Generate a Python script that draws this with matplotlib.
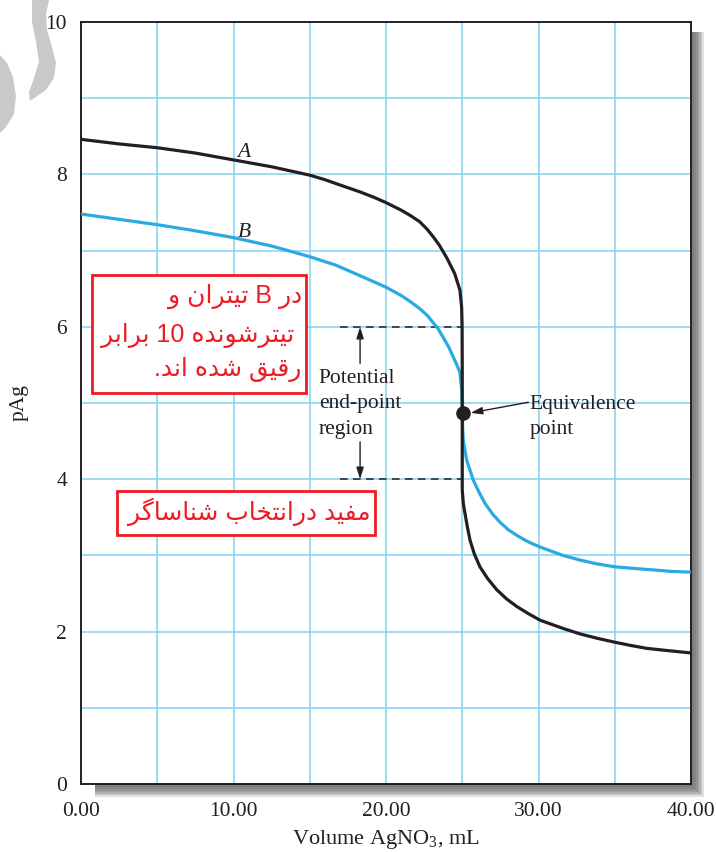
import re
import matplotlib
matplotlib.use('Agg')
import matplotlib.pyplot as plt
from matplotlib.patches import Rectangle, Polygon

plt.rcParams['mathtext.fontset'] = 'custom'
plt.rcParams['mathtext.rm'] = 'Liberation Serif'
plt.rcParams['mathtext.it'] = 'Liberation Serif:italic'

# ---------------- data ----------------
volume_A = [0, 2.5, 5, 7.5, 10, 12.5, 15, 16, 17, 18.3, 19.2, 20.0, 21.0, 21.6, 22.2,
            22.7, 23.1, 23.5, 24.0, 24.5, 24.85, 24.96, 24.99, 25.0, 25.0, 25.0,
            25.07, 25.18, 25.33, 25.51, 25.79, 26.16, 26.65, 27.26, 27.9, 28.57,
            29.3, 30.1, 31.63, 32.72, 33.9, 35.02, 36.0, 37.1, 38.5, 40]
pAg_A = [8.46, 8.40, 8.35, 8.28, 8.19, 8.10, 7.99, 7.93, 7.86, 7.77, 7.70, 7.63,
         7.53, 7.46, 7.38, 7.28, 7.18, 7.07, 6.90, 6.70, 6.48, 6.26, 6.00, 5.43,
         4.87, 3.86, 3.68, 3.55, 3.38, 3.20, 3.02, 2.85, 2.70, 2.55, 2.43, 2.33,
         2.24, 2.15, 2.04, 1.97, 1.91, 1.86, 1.82, 1.78, 1.75, 1.72]

volume_B = [0, 2.5, 5, 7.5, 10, 12.5, 15, 16.7, 18.3, 20.0, 21.0, 21.6, 22.2, 22.7,
            23.4, 24.1, 24.6, 24.85, 24.97, 25.0, 25.03, 25.07, 25.29, 25.72, 26.1,
            26.5, 27.0, 27.5, 28.0, 28.6, 29.3, 30.1, 31.6, 32.7, 33.8, 35.0, 36.2,
            37.5, 38.7, 40]
pAg_B = [7.48, 7.41, 7.34, 7.26, 7.17, 7.06, 6.92, 6.81, 6.67, 6.52, 6.41, 6.33,
         6.24, 6.15, 5.98, 5.74, 5.52, 5.40, 5.15, 4.87, 4.65, 4.51, 4.25, 3.99,
         3.83, 3.68, 3.54, 3.43, 3.34, 3.26, 3.18, 3.11, 3.00, 2.94, 2.89, 2.85,
         2.83, 2.81, 2.79, 2.78]

x_ticks = [0, 10, 20, 30, 40]
x_tick_labels = ['0.00', '10.00', '20.00', '30.00', '40.00']
y_ticks = [0, 2, 4, 6, 8, 10]
equivalence_volume = 25.05
equivalence_pAg = 4.87
endpoint_low, endpoint_high = 4.0, 6.0

note_lines = ['در B تیتران و', ' تیترشونده 10 برابر', 'رقیق شده اند.']
note2 = 'مفید درانتخاب شناساگر'

# ---------------- minimal Persian shaping (presentation forms + RTL order) ----
FORMS = {  # isolated, final, initial, medial
    'ا': ('\uFE8D', '\uFE8E', None, None),
    'ب': ('\uFE8F', '\uFE90', '\uFE91', '\uFE92'),
    'ت': ('\uFE95', '\uFE96', '\uFE97', '\uFE98'),
    'خ': ('\uFEA5', '\uFEA6', '\uFEA7', '\uFEA8'),
    'د': ('\uFEA9', '\uFEAA', None, None),
    'ر': ('\uFEAD', '\uFEAE', None, None),
    'س': ('\uFEB1', '\uFEB2', '\uFEB3', '\uFEB4'),
    'ش': ('\uFEB5', '\uFEB6', '\uFEB7', '\uFEB8'),
    'ف': ('\uFED1', '\uFED2', '\uFED3', '\uFED4'),
    'ق': ('\uFED5', '\uFED6', '\uFED7', '\uFED8'),
    'م': ('\uFEE1', '\uFEE2', '\uFEE3', '\uFEE4'),
    'ن': ('\uFEE5', '\uFEE6', '\uFEE7', '\uFEE8'),
    'ه': ('\uFEE9', '\uFEEA', '\uFEEB', '\uFEEC'),
    'و': ('\uFEED', '\uFEEE', None, None),
    'ی': ('\uFBFC', '\uFBFD', '\uFBFE', '\uFBFF'),
    'گ': ('\uFB92', '\uFB93', '\uFB94', '\uFB95'),
}


def shape(s):
    out = []
    for i, ch in enumerate(s):
        if ch not in FORMS:
            out.append(ch)
            continue
        iso, fin, ini, med = FORMS[ch]
        prev = s[i - 1] if i > 0 else ''
        nxt = s[i + 1] if i + 1 < len(s) else ''
        jp = prev in FORMS and FORMS[prev][2] is not None
        jn = ini is not None and nxt in FORMS
        if jp and jn:
            out.append(med)
        elif jp:
            out.append(fin)
        elif jn:
            out.append(ini)
        else:
            out.append(iso)
    return ''.join(out)


def visual(s):
    tokens = re.findall(r'[A-Za-z0-9]+|[^A-Za-z0-9]+', shape(s))
    res = []
    for t in reversed(tokens):
        res.append(t if re.match(r'[A-Za-z0-9]', t) else t[::-1])
    return ''.join(res)


# ---------------- figure ----------------
W, H = 716, 852
fig = plt.figure(figsize=(W / 100, H / 100), dpi=100)
fig.patch.set_facecolor('white')


def P(x, y):
    return (x / W, 1 - y / H)


ax_l, ax_r, ax_t, ax_b = 81, 691, 22, 784
ax = fig.add_axes([ax_l / W, 1 - ax_b / H, (ax_r - ax_l) / W, (ax_b - ax_t) / H])

# drop shadow of the frame
for i in range(7):
    x0, y0 = P(ax_l + 14, ax_t + 10)
    x1, y1 = P(ax_r + 13 - 1.6 * i, ax_b + 13 - 1.6 * i)
    fig.add_artist(Rectangle((x0, y1), x1 - x0, y0 - y1, transform=fig.transFigure,
                             facecolor='#4a4a4a', edgecolor='none', alpha=0.16, zorder=-5))

# decorative gray swirls (top-left)
swirl1 = [(32, 0), (49, 0), (46, 14), (47, 30), (52, 47), (56, 63), (54, 78), (46, 90),
          (30, 101), (29, 92), (34, 78), (39, 62), (36, 42), (32, 22)]
swirl2 = [(0, 55), (7, 63), (13, 77), (16, 96), (14, 114), (6, 127), (0, 133)]
for pts in (swirl1, swirl2):
    fig.add_artist(Polygon([P(x, y) for x, y in pts], closed=True, transform=fig.transFigure,
                           facecolor='#c8c9cb', edgecolor='none', zorder=-4))

ink = '#231f20'
serif = 'Liberation Serif'
fs = 15.5

ax.set_xlim(0, 40)
ax.set_ylim(0, 10)
ax.set_axisbelow(True)

ax.set_xticks(x_ticks)
ax.set_xticklabels(x_tick_labels, family=serif, fontsize=fs, color=ink)
ax.set_xticks(range(0, 41, 5), minor=True)
ax.set_yticks(y_ticks)
ax.set_yticklabels([str(v) for v in y_ticks], family=serif, fontsize=fs, color=ink)
ax.set_yticks(range(0, 11), minor=True)
ax.grid(True, which='both', color='#82d2f2', linewidth=1.1)
ax.tick_params(which='both', length=0)
ax.tick_params(axis='x', pad=13)
ax.tick_params(axis='y', pad=10)

for sp in ax.spines.values():
    sp.set_linewidth(1.4)
    sp.set_color(ink)

ax.set_xlabel(r'Volume AgNO$_{\mathrm{3}}$, mL', family=serif, fontsize=16,
              color=ink, labelpad=5)
ax.set_ylabel('pAg', family=serif, fontsize=fs, color=ink, labelpad=12)

# curves
ax.plot(volume_B, pAg_B, color='#29aae1', linewidth=2.3, zorder=3,
        solid_joinstyle='round')
ax.plot(volume_A, pAg_A, color=ink, linewidth=2.3, zorder=4, solid_joinstyle='round')
ax.plot([equivalence_volume], [equivalence_pAg], 'o', color=ink, markersize=9.5, zorder=5)

ax.text(10.67, 8.23, 'A', family=serif, style='italic', fontsize=fs, color=ink,
        ha='center', va='baseline')
ax.text(10.72, 7.18, 'B', family=serif, style='italic', fontsize=fs, color=ink,
        ha='center', va='baseline')

# end-point region
for yv in (endpoint_low, endpoint_high):
    ax.plot([17.0, 25.0], [yv, yv], color=ink, linewidth=1.1,
            linestyle=(0, (5, 3.5)), zorder=2)
arrow_kw = dict(arrowstyle='-|>,head_length=0.7,head_width=0.22', color=ink,
                linewidth=1.0, shrinkA=0, shrinkB=0)
ax.annotate('', xy=(18.3, endpoint_high), xytext=(18.3, 5.52), arrowprops=arrow_kw)
ax.annotate('', xy=(18.3, endpoint_low), xytext=(18.3, 4.49), arrowprops=arrow_kw)
for txt, yv in zip(['Potential', 'end-point', 'region'], [5.26, 4.93, 4.59]):
    ax.text(15.6, yv, txt, family=serif, fontsize=fs, color=ink, ha='left', va='baseline')

# equivalence point
ax.annotate('', xy=(25.55, 4.87), xytext=(29.34, 5.01), arrowprops=arrow_kw)
ax.text(29.4, 4.92, 'Equivalence', family=serif, fontsize=fs, color=ink,
        ha='left', va='baseline')
ax.text(29.4, 4.59, 'point', family=serif, fontsize=fs, color=ink,
        ha='left', va='baseline')

# red Persian notes
red = '#ed1c24'
pfam = ['Liberation Sans', 'DejaVu Sans']
ax.add_patch(Rectangle((0.74, 5.13), 13.99, 1.55, facecolor='white', edgecolor=red,
                       linewidth=2.0, zorder=6))
note_x = [14.47, 14.47, 14.47]
note_y = [6.32, 5.80, 5.35]
for line, xv, yv in zip(note_lines, note_x, note_y):
    ax.text(xv, yv, visual(line), family=pfam, fontsize=18, color=red,
            ha='right', va='baseline', zorder=7)
ax.add_patch(Rectangle((2.38, 3.27), 16.90, 0.58, facecolor='white', edgecolor=red,
                       linewidth=2.0, zorder=6))
ax.text(19.02, 3.46, visual(note2), family=pfam, fontsize=18, color=red,
        ha='right', va='baseline', zorder=7)

fig.savefig('out.png', dpi=100)
